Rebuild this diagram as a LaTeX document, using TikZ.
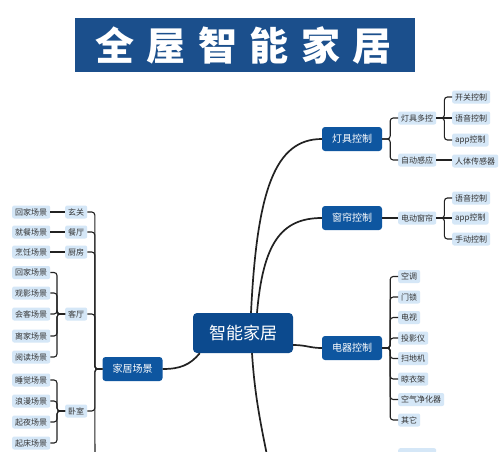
\documentclass[tikz,border=0pt]{standalone}
\usepackage{fontspec}
\newfontfamily\cjk{Noto Sans CJK SC}
\definecolor{titleblue}{HTML}{1B4F8C}
\definecolor{darkblue}{HTML}{0E56A0}
\definecolor{centerblue}{HTML}{0C4A8E}
\definecolor{lightblue}{HTML}{D5E7F7}
\definecolor{textgray}{HTML}{333333}
\definecolor{linecol}{HTML}{222222}
\newcommand{\tsp}{\hspace{12.5pt}}
\tikzset{
  lnode/.style={fill=lightblue, rounded corners=2pt, inner xsep=3pt, inner ysep=0pt,
    minimum height=13pt, text=textgray, font=\cjk\fontsize{8}{8}\selectfont},
  dnode/.style={fill=darkblue, rounded corners=3pt, minimum width=60pt, minimum height=24pt,
    inner sep=0pt, text=white, font=\cjk\fontsize{10}{10}\selectfont},
  cnode/.style={fill=centerblue, rounded corners=4pt, minimum width=100pt, minimum height=40pt,
    inner sep=0pt, text=white, font=\cjk\fontsize{17}{17}\selectfont},
  mainline/.style={draw=linecol, line width=1.7pt},
  brline/.style={draw=linecol, line width=1.1pt, rounded corners=3pt},
}
\begin{document}
\begin{tikzpicture}[x=1pt,y=-1pt]
\useasboundingbox (0,0) rectangle (500,451);
\clip (0,0) rectangle (500,451);
\fill[white] (0,0) rectangle (500,451);

% title
\node[fill=titleblue, minimum width=340pt, minimum height=54pt, inner sep=0pt,
  text=white, font=\cjk\bfseries\fontsize{39}{39}\selectfont] (title) at (245,45)
  {\hspace{-3pt}全\tsp 屋\tsp 智\tsp 能\tsp 家\tsp 居};

% center
\node[cnode] (center) at (243,333) {智能家居};

% right main branches
\node[dnode] (lamp) at (352,139) {灯具控制};
\node[dnode] (curt) at (352,218) {窗帘控制};
\node[dnode] (appl) at (352,348) {电器控制};
\node[dnode] (home) at (132.5,369) {家居场景};

\draw[mainline] ([xshift=8pt]center.north) .. controls (257,190) and (275,139) .. (lamp.west);
\draw[mainline] ([xshift=14pt]center.north) .. controls (263,245) and (280,218) .. (curt.west);
\draw[mainline] ([yshift=-12pt]center.east) .. controls (306,345) and (310,348) .. (appl.west);
\draw[mainline] ([xshift=7pt]center.south west) .. controls (190,365) and (180,369) .. (home.east);
\coordinate (offB) at (270,470);
\draw[mainline] ([xshift=9pt]center.south) .. controls (255,400) and (262,430) .. (offB);

% lamp sub-tree
\node[lnode, anchor=west] (lm) at (398,118) {灯具多控};
\node[lnode, anchor=west] (la) at (398,160) {自动感应};
\node[lnode, anchor=west] (l1) at (452,97) {开关控制};
\node[lnode, anchor=west] (l2) at (452,118) {语音控制};
\node[lnode, anchor=west] (l3) at (452,140) {app控制};
\node[lnode, anchor=west] (l4) at (452,161) {人体传感器};
\draw[brline] (lamp.east) -- ++(8,0) |- (lm.west);
\draw[brline] (lamp.east) -- ++(8,0) |- (la.west);
\draw[brline] (lm.east) -- ++(8,0) |- (l1.west);
\draw[brline] (lm.east) -- (l2.west);
\draw[brline] (lm.east) -- ++(8,0) |- (l3.west);
\draw[brline] (la.east) -- (l4.west |- la.east);

% curtain sub-tree
\node[lnode, anchor=west] (cm) at (398,218) {电动窗帘};
\node[lnode, anchor=west] (c1) at (452,198) {语音控制};
\node[lnode, anchor=west] (c2) at (452,218) {app控制};
\node[lnode, anchor=west] (c3) at (452,239) {手动控制};
\draw[brline] (curt.east) -- (cm.west);
\draw[brline] (cm.east) -- ++(8,0) |- (c1.west);
\draw[brline] (cm.east) -- (c2.west);
\draw[brline] (cm.east) -- ++(8,0) |- (c3.west);

% appliance sub-tree
\node[lnode, anchor=west] (a1) at (398,276.5) {空调};
\node[lnode, anchor=west] (a2) at (398,297) {门锁};
\node[lnode, anchor=west] (a3) at (398,317.5) {电视};
\node[lnode, anchor=west] (a4) at (398,338) {投影仪};
\node[lnode, anchor=west] (a5) at (398,358.5) {扫地机};
\node[lnode, anchor=west] (a6) at (398,379) {晾衣架};
\node[lnode, anchor=west] (a7) at (398,399.5) {空气净化器};
\node[lnode, anchor=west] (a8) at (398,420) {其它};
\foreach \n in {a1,a2,a3,a4,a5,a6,a7,a8}{
  \draw[brline] (appl.east) -- ++(8,0) |- (\n.west);
}
\node[lnode, anchor=north west, minimum width=38pt] (acut) at (398,448) {};

% left: scene nodes
\node[lnode, anchor=west] (s1) at (12,212) {回家场景};
\node[lnode, anchor=west] (s2) at (12,232) {就餐场景};
\node[lnode, anchor=west] (s3) at (12,252) {烹饪场景};
\node[lnode, anchor=west] (s4) at (12,272.5) {回家场景};
\node[lnode, anchor=west] (s5) at (12,293) {观影场景};
\node[lnode, anchor=west] (s6) at (12,314) {会客场景};
\node[lnode, anchor=west] (s7) at (12,336) {离家场景};
\node[lnode, anchor=west] (s8) at (12,357) {阅读场景};
\node[lnode, anchor=west] (s9) at (12,380) {睡觉场景};
\node[lnode, anchor=west] (s10) at (12,401) {浪漫场景};
\node[lnode, anchor=west] (s11) at (12,422) {起夜场景};
\node[lnode, anchor=west] (s12) at (12,443) {起床场景};

% rooms
\node[lnode, anchor=west] (r1) at (65,212) {玄关};
\node[lnode, anchor=west] (r2) at (65,232) {餐厅};
\node[lnode, anchor=west] (r3) at (65,252) {厨房};
\node[lnode, anchor=west] (r4) at (65,314) {客厅};
\node[lnode, anchor=west] (r5) at (65,411) {卧室};

\draw[brline] (s1.east) -- (r1.west);
\draw[brline] (s2.east) -- (r2.west);
\draw[brline] (s3.east) -- (r3.west);
\foreach \n in {s4,s5,s6,s7,s8}{
  \draw[brline] (r4.west) -- ++(-8,0) |- (\n.east);
}
\foreach \n in {s9,s10,s11,s12}{
  \draw[brline] (r5.west) -- ++(-8,0) |- (\n.east);
}
\foreach \n in {r1,r2,r3,r4,r5}{
  \draw[brline] (home.west) -- ++(-7.5,0) |- (\n.east);
}
\coordinate (offL) at (95,470);
\draw[brline] (home.west) -- ++(-7.5,0) -- (offL);
\end{tikzpicture}
\end{document}
